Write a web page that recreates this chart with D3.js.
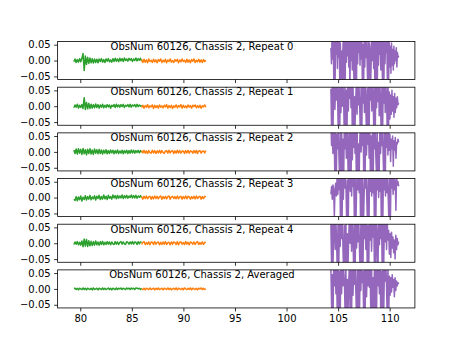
<!DOCTYPE html>
<html>
<head>
<meta charset="utf-8">
<script src="https://cdn.jsdelivr.net/npm/d3@7/dist/d3.min.js"></script>
<style>
  html, body { margin: 0; padding: 0; background: #fff; }
  svg { display: block; }
  text { font-family: "DejaVu Sans", sans-serif; }
</style>
</head>
<body>
<script>
// Panel titles
const titles = [
  "ObsNum 60126, Chassis 2, Repeat 0",
  "ObsNum 60126, Chassis 2, Repeat 1",
  "ObsNum 60126, Chassis 2, Repeat 2",
  "ObsNum 60126, Chassis 2, Repeat 3",
  "ObsNum 60126, Chassis 2, Repeat 4",
  "ObsNum 60126, Chassis 2, Averaged"
];

// Frequency span (GHz) covered by each band
const greenRange  = [79.38, 85.95];
const orangeRange = [85.95, 92.18];
const purpleRange = [104.3, 110.87];

// Tick values
const xTicks = [80, 85, 90, 95, 100, 105, 110];
const yTicks = [-0.05, 0.00, 0.05];
const yLimits = [-0.06, 0.06];

// Spectra in units of 1e-3 (converted when drawn)
const green0 = [-4,5,-6,3,-5,6,-4,7,22,-31,14,-12,10,-9,8,-7,6,-8,5,-6,
  4,-7,5,-3,6,-5,3,-6,5,-2,6,-4,2,-5,6,-3,7,-2,5,-4,
  7,-1,6,-3,8,0,5,-2,7,1,6,-3,5,0,8,-1,6,1,7,-2];
const orange0 = [3,-6,4,-5,2,-7,5,-3,1,-6,4,-4,2,-7,3,-2,5,-6,1,-4,
  4,-7,2,-3,5,-5,0,-6,3,-2,4,-7,2,-4,5,-3,1,-6,4,-5,
  2,-7,3,-2,5,-6,1,-4,4,-5,2,-6,3,-3,1];
const purple0 = [40,-10,85,5,95, -100,60,-90,75, 20,90,-25,70,10,85,
  -95,55,-100, 30,-80,25, 80,-100,65,-70, 90,-5,60,15,95,-20,75,
  -100,85, 0,70,-30,90, 20,-90, 60,-100,80,-85,95,
  -10,65,25,90,-15,70,5,85, -95,50,-100, 80,-20,95,10,60,-5,
  -90,75,-100,55, 35,-70,15, 90,0,70,-25,85, -100,60,-80,95,-95,70,
  -15,85,20,60,-30,90,10, -85,65,-100, 75,-10,55,25,90, -70,80,-95,
  60,-20,45,-40,55,-15,35,-30,45,-10,30,0,40,-20,25,10,15];

const green1 = [-5,4,-3,6,-6,3,-4,5,-7,27,-10,12,-8,9,-7,6,-6,5,-5,7,
  -4,5,-6,4,-3,6,-5,3,-4,5,-2,4,-6,3,-1,5,-4,6,-2,4,
  -3,5,-1,6,-4,3,0,5,-2,6,-3,4,1,5,-2,6,-1,4,0,3];
const orange1 = [-4,3,-6,2,-3,5,-5,1,-2,4,-7,3,-4,2,-6,4,-3,1,-5,3,
  -2,5,-6,2,-4,3,-7,1,-3,4,-5,2,-2,5,-6,3,-4,1,-5,4,
  -3,2,-6,3,-1,4,-5,2,-4,3,-6,1,-2,4,-3];
const purple1 = [55,-70,80,-95, 40,85,-10,65,20,90, 25,-85, 70,-100,60,
  -20,95,0,75,15, -90,85,-100,50,-75, 80,-15,60,25,90,-5,70,
  -100,65,-85, 30,-60,20, 85,-25,95,5,60,-10, -95,75,-100,90,
  10,70,-20,85,0, -80,55,-100,95,-70,65, 20,90,-15,75, 35,-95,
  60,-100,85, -5,70,15,95,-30,80,5, -90,60,-100,75, 10,85,-20,65,25,
  -85,90,-60, 45,-40,35,-25,50,-15,30,-35,40,-20,25,-5,30,5,10];

const green2 = [6,-5,9,-7,10,-4,8,-8,11,-6,7,-9,8,-5,10,-7,6,-8,9,-4,
  7,-6,8,-5,6,-7,5,-4,7,-6,4,-5,6,-3,5,-6,4,-4,6,-5,
  3,-4,5,-6,4,-3,5,-5,4,-4,6,-3,5,-4,4,-2,5,-3,4,-1];
const orange2 = [4,-3,5,-4,3,-5,4,-2,-4,5,-3,4,-5,3,-3,5,-4,4,-2,-5,
  3,4,-4,5,-3,2,4,-5,3,-4,5,-3,4,-4,2,3,-5,4,-3,5,
  -4,3,2,-4,4,-3,5,-5,3,4,-4,2,3,-3,4];
const purple2 = [95,20,80,-5,90,30, -90,75,-100,55, 10,85,-15,
  -85,60,-100,80,-70, 40,-95, 85,10,65,-20,95,5, -100,70,-90,60,-100,
  90,-25,70,15,80,-5,60, -95,85,-80, 25,-100,35, 85,0,65,20,95,
  -100,75,-70,90, -10,60,25,85,-20,70, -95,50,-100,85,-90,
  65,10,95,-15, -75,70,-100, 30,-65, 85,-5,60,20,90,-25,
  -100,75,-95,65, 15,80,-10,90,5,
  55,-30,40,10,50,-45,35,5,45,-20,30,25,40,30];

const green3 = [-5,-9,3,-10,2,-7,5,-11,1,-6,6,-8,3,-5,7,-7,2,-4,6,-8,
  4,-3,7,-6,3,-5,8,-4,4,-6,7,-2,3,-5,8,-1,6,-4,7,-2,
  5,-1,8,-3,6,-1,7,-2,5,0,8,-1,6,-1,7,-2,5,1,6,0];
const orange3 = [3,-5,4,-3,5,-4,2,4,-5,3,-4,5,-3,4,-4,2,5,-5,3,-3,
  4,-4,3,5,-5,2,4,-3,3,-4,5,-4,2,4,-5,3,-3,5,-4,4,
  2,-5,3,-3,4,-4,5,-3,2,4,-5,3,-3,4,2];
const purple3 = [10,35,-5,40,20,-60,30,45, 5,70,10,85,25,60,
  -100,80,-90, 65,-5,90,30,75,15, -95,55,-100,85,
  95,20,70,5,85,35,60, -80,90,-100, 10,90,25,65,15,95,
  -100,75,-85,60,-95, 0,80,30,70,-10, -90,85,-100,
  90,20,75,5,95,15,65, -100,70,-75,90, 25,85,0,60,20,95,
  -95,65,-100, 80,25,65,5,95,15,75,-5, -90,85,-80,
  70,30,60,10,75,25,55,-40,70,40,50,35];

const green4 = [-4,4,-3,5,-5,3,-6,7,-11,13,-9,12,-10,8,-8,6,-7,5,-6,7,
  -5,4,-6,5,-4,6,-5,3,-4,5,-3,4,-5,4,-2,-4,5,-3,4,-4,
  3,5,-3,4,-2,-4,5,3,-3,4,-2,5,-3,4,3,-4,5,-2,4,3];
const orange4 = [-4,3,5,-4,2,-3,4,-5,4,3,-4,5,-3,2,4,-5,3,-4,4,-3,
  5,-4,2,3,-5,4,-3,4,2,-4,5,-5,3,4,-3,2,-4,5,-3,3,
  -5,4,2,-3,4,-4,3,5,-4,2,-3,4,-4,3,2];
const purple4 = [60,-80,85,-65, 45,90,-20,75,5, -100,70,-90,
  85,-10,65,15,95,-25, -100,55,-85,80,-95, 30,-70,20,
  90,0,60,-25,85,20, -100,70,-80,95, -15,70,5,85,-10,
  -95,60,-100,75,-70,90, 15,65,-20,85, -90,55,-100,
  95,10,75,-25,60,20,85, -80,70,-100,65, 25,-90,
  90,-5,70,15,80, -100,85,-75,60, 5,95,-20,70,10,
  40,-35,30,-45,35,-15,20,-30,10,-50,25,-20,15,-5,5];

const green5 = [1,2,-2,2,-3,2,0,-2,3,-2,2,-3,2,0,-2,2,-3,3,-2,0,
  2,-3,2,0,-2,3,-2,2,-2,0,3,-2,2,-3,2,0,-2,3,-2,2,
  0,3,-2,2,0,-2,3,0,2,-2,3,0,2,-2,3,2,0,2,-2,2];
const orange5 = [0,-2,2,-3,2,0,-2,3,-2,0,2,-3,2,-2,3,-2,0,2,-3,2,
  0,-2,3,-2,2,-3,0,2,-2,3,-3,2,0,-2,2,-3,3,0,-2,2,
  -2,3,-3,2,0,-2,2,-3,2,0,3,-2,2,-2,0];
const purple5 = [70,-60,45,-95, 85,10,95,-15,60, -100,90,-85,55,-95,
  75,-15,95,10,60,20, -90,65,-100, 30,-75,20, 85,-100,70,-80,
  90,-20,70,15,85,-10, -100,60,-75,80,-95, 70,-5,85,20,55,
  -100,90,-70,85, -25,75,10,95,5,65, -85,90,-100, 35,-70,
  60,-95,80,-75, 95,10,65,-15,80, -100,55,-65,90,-85,
  60,25,90,5, -95,75,-100,
  40,-20,35,-10,45,5,30,-25,35,-5,25,10,20,15];

const greens  = [green0, green1, green2, green3, green4, green5];
const oranges = [orange0, orange1, orange2, orange3, orange4, orange5];
const purples = [purple0, purple1, purple2, purple3, purple4, purple5];

// ---- figure layout ----
const W = 461, H = 346;
const figLeft = 0.125 * W, figRight = 0.9 * W;
const figTop = 0.12 * H, figBottom = 0.89 * H;
const nRows = titles.length, hspace = 0.2;
const panelH = (figBottom - figTop) / (nRows + (nRows - 1) * hspace);
const gapH = panelH * hspace;
const panelW = figRight - figLeft;

// build (x, y) points for a band, with channels evenly spaced across its span
function bandPoints(range, vals) {
  const step = (range[1] - range[0]) / (vals.length - 1);
  return vals.map((v, i) => ({ x: range[0] + i * step, y: v / 1000 }));
}

// x limits: data extent with a 5% margin on each side
const xMin = greenRange[0], xMax = purpleRange[1];
const xPad = 0.05 * (xMax - xMin);
const x = d3.scaleLinear().domain([xMin - xPad, xMax + xPad]).range([figLeft, figRight]);

const svg = d3.select("body").append("svg")
  .attr("width", W).attr("height", H)
  .attr("viewBox", `0 0 ${W} ${H}`);

const colors = { green: "#2ca02c", orange: "#ff7f0e", purple: "#9467bd" };

titles.forEach((title, i) => {
  const top = figTop + i * (panelH + gapH);
  const y = d3.scaleLinear().domain(yLimits).range([top + panelH, top]);
  const g = svg.append("g");

  const clipId = "clip" + i;
  svg.append("clipPath").attr("id", clipId)
    .append("rect").attr("x", figLeft).attr("y", top)
    .attr("width", panelW).attr("height", panelH);

  const line = d3.line().x(d => x(d.x)).y(d => y(d.y));
  const series = [
    [bandPoints(greenRange, greens[i]), colors.green],
    [bandPoints(orangeRange, oranges[i]), colors.orange],
    [bandPoints(purpleRange, purples[i]), colors.purple]
  ];
  const lines = g.append("g").attr("clip-path", `url(#${clipId})`);
  series.forEach(([pts, c]) => {
    lines.append("path").datum(pts)
      .attr("d", line)
      .attr("fill", "none")
      .attr("stroke", c)
      .attr("stroke-width", 1.5)
      .attr("stroke-linejoin", "round");
  });

  // y axis
  const yAxis = d3.axisLeft(y).tickValues(yTicks).tickSize(3.5).tickPadding(3.5)
    .tickFormat(d => (d < 0 ? "\u2212" : "") + d3.format(".2f")(Math.abs(d)));
  const ya = g.append("g").attr("transform", `translate(${figLeft},0)`).call(yAxis);
  ya.select(".domain").remove();
  ya.selectAll("line").attr("stroke", "#000").attr("stroke-width", 0.8);
  ya.selectAll("text").attr("font-size", 10).attr("font-family", "DejaVu Sans").attr("fill", "#000");

  // x axis (labels on the bottom panel only)
  const xAxis = d3.axisBottom(x).tickValues(xTicks).tickSize(3.5).tickPadding(3.5)
    .tickFormat(i === nRows - 1 ? d3.format("d") : () => "");
  const xa = g.append("g").attr("transform", `translate(0,${top + panelH})`).call(xAxis);
  xa.select(".domain").remove();
  xa.selectAll("line").attr("stroke", "#000").attr("stroke-width", 0.8);
  xa.selectAll("text").attr("font-size", 10).attr("font-family", "DejaVu Sans").attr("fill", "#000");

  // frame
  g.append("rect")
    .attr("x", figLeft).attr("y", top)
    .attr("width", panelW).attr("height", panelH)
    .attr("fill", "none").attr("stroke", "#000").attr("stroke-width", 0.8);

  // panel title
  g.append("text")
    .attr("x", figLeft + 0.404 * panelW)
    .attr("y", top + 8.3)
    .attr("text-anchor", "middle")
    .attr("font-size", 10)
    .attr("fill", "#000")
    .text(title);
});
</script>
</body>
</html>
